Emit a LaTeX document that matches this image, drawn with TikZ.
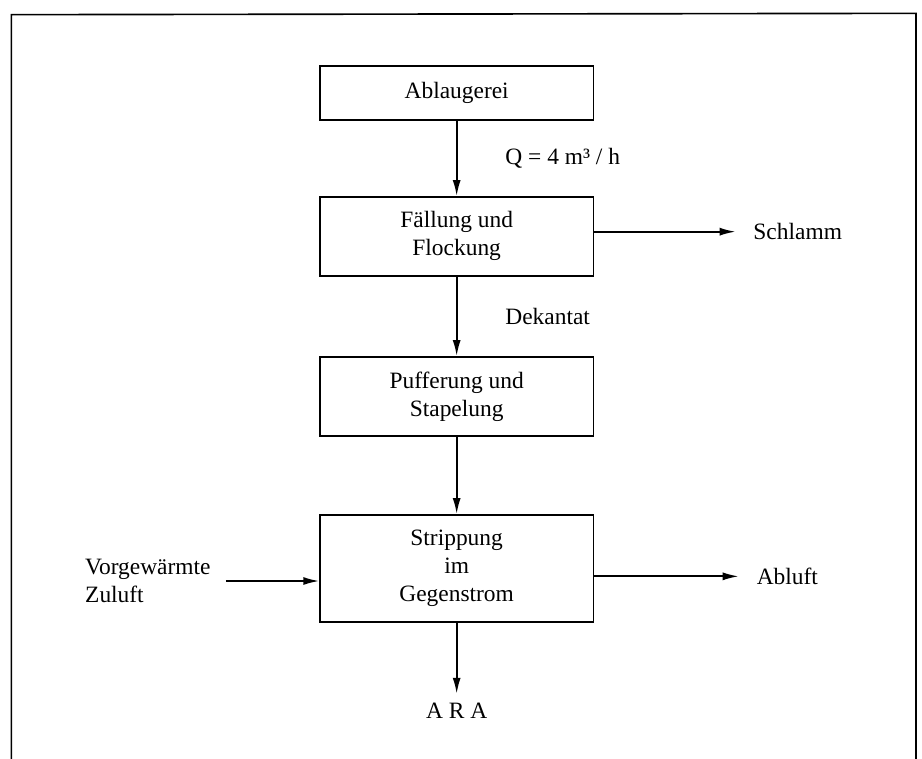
\documentclass[tikz,border=0pt]{standalone}
\usepackage{fontspec}
\setmainfont{Liberation Serif}
\usetikzlibrary{arrows.meta,positioning}
\tikzset{%
  >={Latex[width=1.2mm,length=2.4mm]},
  % Specifications for style of nodes:
        base/.style = {rectangle, draw=black, line width=0.6pt,
                       minimum width=4.1cm, minimum height=1.185cm,
                       text centered, align=center},
      quelle/.style = {base, minimum height=0.81cm},
     process/.style = {base},
    stripper/.style = {base, minimum height=1.605cm},
}

\begin{document}
\begin{tikzpicture}[node distance=2.4cm, line width=0.8pt,
  every node/.style={font=\fontsize{10}{12}\selectfont}]
  \useasboundingbox (0,0) rectangle (13.83,-11.37);
  % frame (open at the bottom)
  \draw[line width=0.7pt] (0.17,-11.6) -- (0.17,-0.22) -- (13.74,-0.2) -- (13.74,-11.6);

  % Specification of nodes (position, etc.)
  \node (ablaugerei) [quelle] at (6.85,-1.395) {Ablaugerei};
  \node (faellung)   [process, below of=ablaugerei, yshift=0.25cm] {Fällung und\\Flockung};
  \node (pufferung)  [process, below of=faellung]                  {Pufferung und\\Stapelung};
  \node (strippung)  [stripper, below of=pufferung, yshift=-0.18cm] {Strippung\\im\\Gegenstrom};
  \node (schlamm)    [right=2.26cm of faellung, yshift=0.07cm]     {Schlamm};
  \node (abluft)     [right=2.31cm of strippung, yshift=-0.12cm]   {Abluft};
  \node (zuluft)     [left=1.5cm of strippung, yshift=-0.19cm, align=left] {Vorgewärmte\\Zuluft};
  \node (ara)        [below=1.07cm of strippung]                   {A R A};

  % Specification of lines between nodes specified above
  \draw[->] (ablaugerei) -- node[right=0.6cm] {Q = 4 m³ / h} (faellung);
  \draw[->] (faellung) -- node[right=0.6cm] {Dekantat} (pufferung);
  \draw[->] (pufferung) -- (strippung);
  \draw[->, shorten >=0.135cm] (faellung.east |- schlamm) -- (schlamm);
  \draw[->, shorten >=0.14cm] (strippung.east |- abluft) -- (abluft);
  \draw[->, shorten <=0.1cm] (zuluft.east) -- (strippung.west |- zuluft.east);
  \draw[->] (strippung) -- (ara);
\end{tikzpicture}
\end{document}
